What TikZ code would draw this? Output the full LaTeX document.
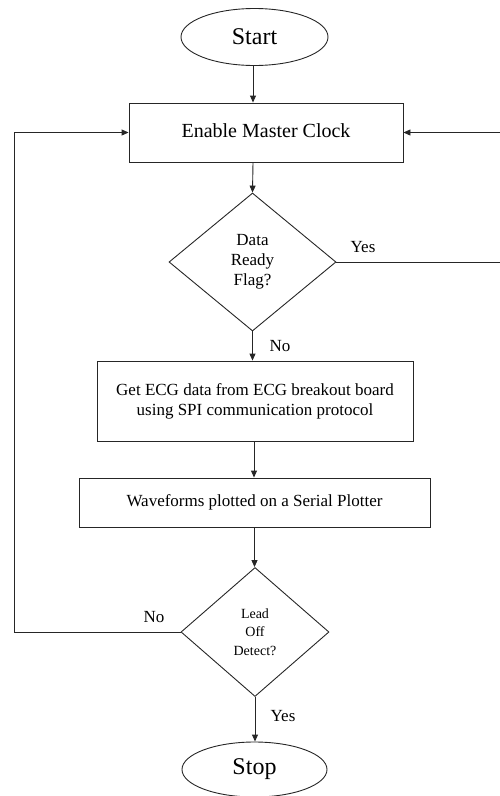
\documentclass[tikz,border=0pt]{standalone}
\usepackage{fontspec}
\setmainfont{Liberation Serif}
\usetikzlibrary{shapes.geometric,arrows.meta}
\begin{document}
\begin{tikzpicture}[x=1pt,y=-1pt,
  line/.style={draw=black!85,line width=0.9pt},
  arr/.style={line,-{Triangle[length=7pt,width=6pt]}},
  term/.style={ellipse,line,inner sep=0pt,font=\fontsize{24}{28}\selectfont},
  proc/.style={rectangle,line,inner sep=0pt,align=center,font=\fontsize{17}{20}\selectfont},
  dec/.style={diamond,line,inner sep=0pt,align=center},
  lbl/.style={font=\fontsize{17}{20}\selectfont,inner sep=0pt}]
\useasboundingbox (0,0) rectangle (499,796);
\node[term,minimum width=147pt,minimum height=57pt] (start) at (254.5,37) {Start};
\node[proc,minimum width=274pt,minimum height=59pt,font=\fontsize{20}{24}\selectfont] (enable) at (266,132.5) {\raisebox{4pt}{Enable Master Clock}};
\node[dec,minimum width=167pt,minimum height=138pt,font=\fontsize{17}{20}\selectfont] (d1) at (252.5,262) {Data\\Ready\\Flag?};
\node[proc,minimum width=316pt,minimum height=80pt] (get) at (255,401) {Get ECG data from ECG breakout board\\using SPI communication protocol};
\node[proc,minimum width=351pt,minimum height=49pt] (wave) at (254.5,502.5) {Waveforms plotted on a Serial Plotter};
\node[dec,minimum width=148pt,minimum height=129pt,font=\fontsize{14}{18.5}\selectfont] (d2) at (255,632) {Lead\\Off\\Detect?};
\node[term,minimum width=145pt,minimum height=55pt] (stop) at (254.5,769.5) {Stop};
\coordinate (lc) at (14,0);
\coordinate (rc) at (503,0);
\draw[arr] (start.south -| 253,0) -- (253,0 |- enable.north);
\draw[arr] (253,0 |- enable.south) -- (d1.north);
\draw[arr] (d1.south) -- (d1.south |- get.north);
\draw[arr] (254,0 |- get.south) -- (254,0 |- wave.north);
\draw[arr] (wave.south) -- (wave.south |- d2.north);
\draw[arr] (d2.south) -- (d2.south |- stop.north);
\draw[arr] (d1.east) -- (d1.east -| rc) |- (enable.east);
\draw[arr] (d2.west) -- (d2.west -| lc) |- (enable.west);
\node[lbl] (y1) at (363,247) {Yes};
\node[lbl] (n1) at (280,346) {No};
\node[lbl] (n2) at (154,617) {No};
\node[lbl] (y2) at (283,716) {Yes};
\end{tikzpicture}
\end{document}
